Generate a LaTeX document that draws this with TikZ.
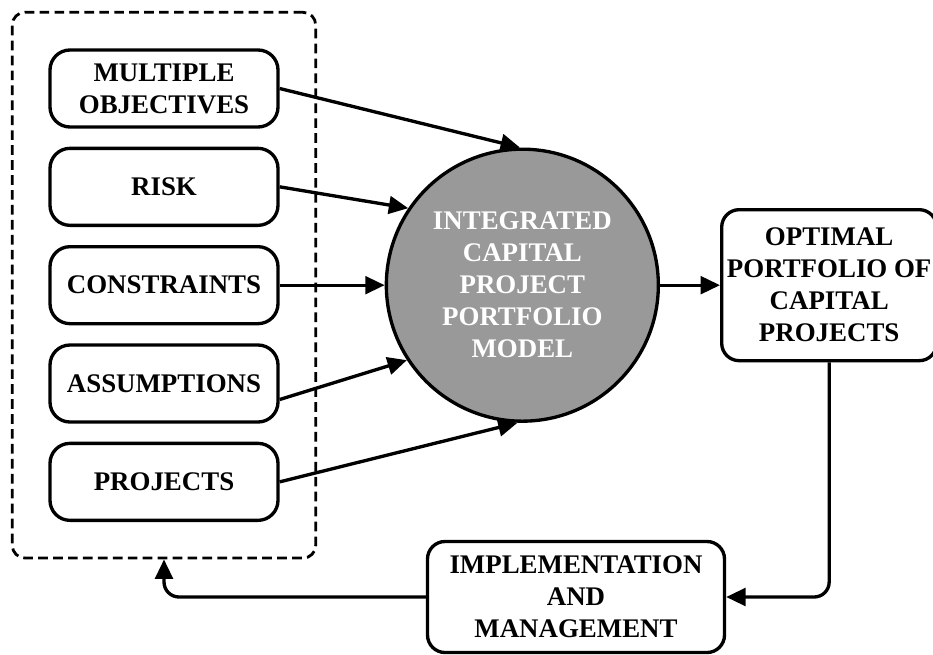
\documentclass[tikz,border=0pt]{standalone}
\usepackage{fontspec}
\setmainfont{Liberation Serif}
\usepackage{tikz}
\usetikzlibrary{positioning, fit, arrows.meta}
\definecolor{modelgray}{RGB}{153,153,153}
\tikzstyle{factor} = [rectangle, rounded corners=0.4cm, minimum width=4.56cm, minimum height=1.54cm, align=center, draw=black, line width=1.9pt]
\tikzstyle{outcome} = [rectangle, rounded corners=0.35cm, inner sep=1pt, align=center, draw=black, line width=1.9pt]
\tikzstyle{model} = [circle, minimum size=5.44cm, align=center, draw=black, fill=modelgray, text=white, line width=1.9pt]
\tikzstyle{group} = [rectangle, rounded corners=0.25cm, draw=black, dash pattern=on 5.5pt off 3pt, line width=1.6pt, inner sep=0.72cm]
\tikzstyle{arrow} = [line width=1.9pt, -{Triangle[length=11pt,width=10pt]}]

\begin{document}
\begin{tikzpicture}[node distance=0.36cm, font=\fontsize{15.3}{18.2}\selectfont\bfseries]
        \useasboundingbox (0,0) rectangle (18.66,-13.08);
        \node (objectives) [factor] at (3.28,-1.77) {MULTIPLE\\OBJECTIVES};
        \node (risk) [factor, below=of objectives] {RISK};
        \node (constraints) [factor, below=of risk] {CONSTRAINTS};
        \node (assumptions) [factor, below=of constraints] {ASSUMPTIONS};
        \node (projects) [factor, below=of assumptions] {PROJECTS};
        \node (inputs) [group, fit=(objectives)(projects)] {};
        \node (model) [model, right=2.1cm of constraints] {INTEGRATED\\CAPITAL\\PROJECT\\PORTFOLIO\\MODEL};
        \node (optimal) [outcome, minimum width=4.3cm, minimum height=3.02cm, right=1.2cm of model] {OPTIMAL\\PORTFOLIO OF\\CAPITAL\\PROJECTS};
        \node (implement) [outcome, minimum width=5.94cm, minimum height=2.22cm] at (11.52,-11.94) {IMPLEMENTATION\\AND\\MANAGEMENT};

        \draw [arrow] (objectives.east) -- (model.91);
        \draw [arrow] (risk.east) -- (model.146);
        \draw [arrow] (constraints.east) -- (model.west);
        \draw [arrow] ([yshift=-0.32cm]assumptions.east) -- (model.213);
        \draw [arrow] (projects.east) -- (model.268);
        \draw [arrow] (model.east) -- (optimal.west);
        \draw [arrow, rounded corners=0.3cm] (optimal.south) |- (implement.east);
        \draw [arrow, rounded corners=0.3cm] (implement.west) -| (inputs.south);
    \end{tikzpicture}
\end{document}
